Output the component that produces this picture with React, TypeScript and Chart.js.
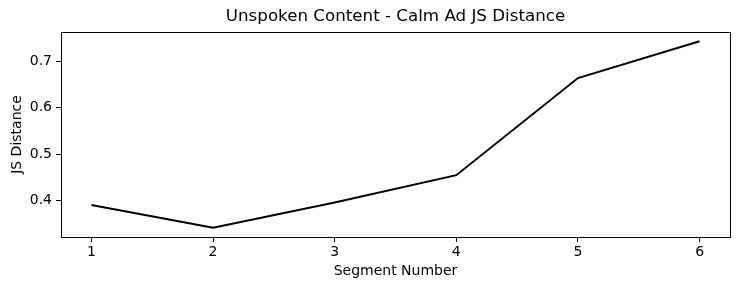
import React, { useEffect, useRef } from "react";
import { Chart, registerables } from "chart.js";

Chart.register(...registerables);

const titleText = "Unspoken Content - Calm Ad JS Distance";
const xAxisTitle = "Segment Number";
const yAxisTitle = "JS Distance";
const segments = [1, 2, 3, 4, 5, 6];
const jsDistance = [0.391, 0.342, 0.396, 0.455, 0.664, 0.743];
const xTicks = [1, 2, 3, 4, 5, 6];
const yTicks = [0.4, 0.5, 0.6, 0.7];

const FONT = "'DejaVu Sans', sans-serif";

const frame = {
  id: "frame",
  afterDraw(chart: any) {
    const { ctx, chartArea } = chart;
    ctx.save();
    ctx.strokeStyle = "#000";
    ctx.lineWidth = 1;
    ctx.strokeRect(
      Math.round(chartArea.left) + 0.5,
      Math.round(chartArea.top) + 0.5,
      Math.round(chartArea.right - chartArea.left),
      Math.round(chartArea.bottom - chartArea.top)
    );
    ctx.fillStyle = "#000";
    ctx.font = `16.7px ${FONT}`;
    ctx.textAlign = "center";
    ctx.textBaseline = "middle";
    ctx.fillText(titleText, (chartArea.left + chartArea.right) / 2, 17);
    ctx.restore();
  },
};

export default function App() {
  const ref = useRef<HTMLCanvasElement>(null);
  useEffect(() => {
    if (!ref.current) return;
    const xMinD = Math.min(...segments);
    const xMaxD = Math.max(...segments);
    const yMinD = Math.min(...jsDistance);
    const yMaxD = Math.max(...jsDistance);
    const xm = (xMaxD - xMinD) * 0.05;
    const ym = (yMaxD - yMinD) * 0.05;
    const chart = new Chart(ref.current, {
      type: "line",
      data: {
        datasets: [
          {
            data: segments.map((s, i) => ({ x: s, y: jsDistance[i] })),
            borderColor: "#000",
            borderWidth: 2,
            pointRadius: 0,
            tension: 0,
            fill: false,
          },
        ],
      },
      plugins: [frame],
      options: {
        animation: false,
        responsive: false,
        layout: { padding: { left: 0, right: 10, top: 32, bottom: 0 } },
        plugins: {
          legend: { display: false },
          tooltip: { enabled: false },
          title: { display: false },
        },
        scales: {
          x: {
            type: "linear",
            min: xMinD - xm,
            max: xMaxD + xm,
            afterBuildTicks: (s: any) => {
              s.ticks = xTicks.map((v) => ({ value: v }));
            },
            afterFit: (s: any) => {
              s.height = 53;
            },
            ticks: {
              color: "#000",
              font: { family: FONT, size: 14 },
              padding: 2,
              maxRotation: 0,
              autoSkip: false,
              callback: (v: any) => String(v),
            },
            grid: {
              drawOnChartArea: false,
              drawTicks: true,
              tickLength: 5,
              color: "#000",
            },
            border: { display: true, color: "#000", width: 1 },
            title: {
              display: true,
              text: xAxisTitle,
              color: "#000",
              font: { family: FONT, size: 14 },
              padding: { top: 10, bottom: 10 },
            },
          },
          y: {
            type: "linear",
            min: yMinD - ym,
            max: yMaxD + ym,
            afterBuildTicks: (s: any) => {
              s.ticks = yTicks.map((v) => ({ value: v }));
            },
            afterFit: (s: any) => {
              s.width = 61;
            },
            ticks: {
              color: "#000",
              font: { family: FONT, size: 14 },
              padding: 4,
              callback: (v: any) => Number(v).toFixed(1),
            },
            grid: {
              drawOnChartArea: false,
              drawTicks: true,
              tickLength: 5,
              color: "#000",
            },
            border: { display: true, color: "#000", width: 1 },
            title: {
              display: true,
              text: yAxisTitle,
              color: "#000",
              font: { family: FONT, size: 14 },
              padding: { top: 9, bottom: 9 },
            },
          },
        },
      },
    } as any);
    return () => chart.destroy();
  }, []);
  return (
    <div style={{ position: "fixed", left: 0, top: 0, width: 740, height: 290, background: "#fff" }}>
      <canvas ref={ref} width={740} height={290} style={{ width: 740, height: 290, display: "block" }} />
    </div>
  );
}
